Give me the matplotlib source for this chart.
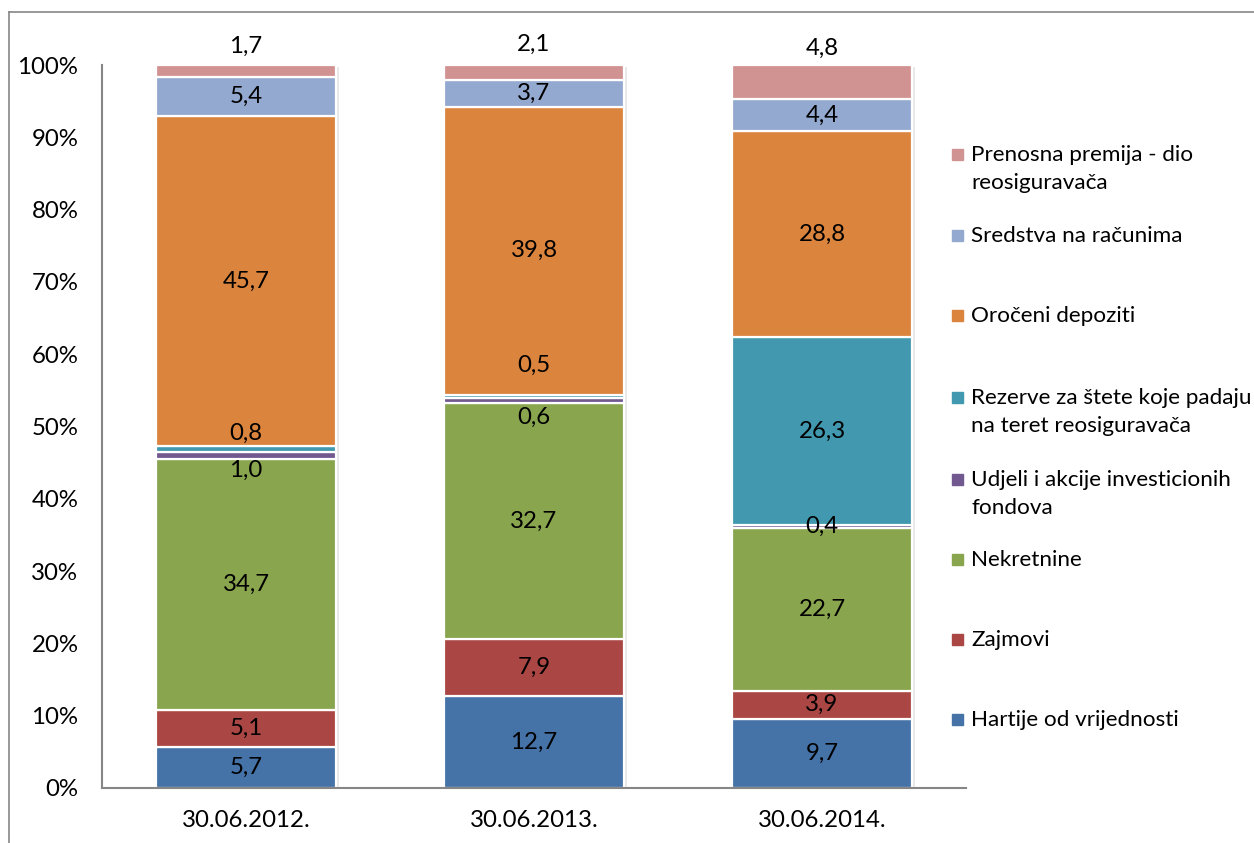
import matplotlib
matplotlib.use("Agg")
import matplotlib.pyplot as plt
from matplotlib.patches import Rectangle
from matplotlib.lines import Line2D
import numpy as np

plt.rcParams['font.family'] = ['Lato', 'DejaVu Sans']

categories = ["30.06.2012.", "30.06.2013.", "30.06.2014."]
series_names = [
    "Hartije od vrijednosti",
    "Zajmovi",
    "Nekretnine",
    "Udjeli i akcije investicionih\nfondova",
    "Rezerve za štete koje padaju\nna teret reosiguravača",
    "Oročeni depoziti",
    "Sredstva na računima",
    "Prenosna premija - dio\nreosiguravača",
]
hartije = [5.7, 12.7, 9.7]
zajmovi = [5.1, 7.9, 3.9]
nekretnine = [34.7, 32.7, 22.7]
udjeli = [1.0, 0.6, 0.4]
rezerve = [0.8, 0.5, 26.3]
oroceni = [45.7, 39.8, 28.8]
sredstva = [5.4, 3.7, 4.4]
prenosna = [1.7, 2.1, 4.8]
series = [hartije, zajmovi, nekretnine, udjeli, rezerve, oroceni, sredstva, prenosna]
colors = ["#4572A7", "#AA4643", "#89A54E", "#71588F", "#4198AF", "#DB843D", "#93A9CF", "#D19392"]

# manually moved label positions (percent), keyed by (series index, category index)
label_pos = {
    (3, 0): 44.0, (4, 0): 49.1,
    (3, 1): 51.2, (4, 1): 58.4,
    (7, 0): 102.6, (7, 1): 102.9, (7, 2): 102.3,
}

W, H = 1254, 843
fig = plt.figure(figsize=(W / 100, H / 100), dpi=100)
ax = fig.add_axes([102 / W, 55 / H, 864 / W, 723 / H])

data = np.array(series, dtype=float)
totals = data.sum(axis=0)
pct = data / totals * 100
x = np.arange(len(categories))
bw = 0.625

# soft shadow
ax.bar(x + 0.006, 100, width=bw + 0.012, bottom=-0.3, color="#e8e8e8", zorder=1, linewidth=0)

bottom = np.zeros(len(categories))
for i, (vals, c) in enumerate(zip(pct, colors)):
    ax.bar(x, vals, width=bw, bottom=bottom, color=c, edgecolor="white", linewidth=1.6, zorder=2)
    for j in range(len(categories)):
        yc = label_pos.get((i, j), bottom[j] + vals[j] / 2)
        ax.text(x[j], yc, f"{data[i, j]:.1f}".replace(".", ","), ha="center", va="center",
                fontsize=17.3, color="black", zorder=5, clip_on=False)
    bottom += vals

ax.set_xlim(-0.5, 2.5)
ax.set_ylim(0, 100)
ax.set_yticks(np.arange(0, 101, 10))
ax.set_yticklabels([f"{v}%" for v in range(0, 101, 10)], fontsize=17.3)
ax.set_xticks(x)
ax.set_xticklabels(categories, fontsize=17.3)
ax.tick_params(axis="both", length=0)
ax.tick_params(axis="y", pad=17)
ax.tick_params(axis="x", pad=16)
for s in ["top", "right"]:
    ax.spines[s].set_visible(False)
for s in ["left", "bottom"]:
    ax.spines[s].set_color("#868686")
    ax.spines[s].set_linewidth(1.5)

# legend (manual)
leg_y = [720, 640, 560, 494, 412, 316, 236, 169]
for i in range(len(series_names) - 1, -1, -1):
    yy = leg_y[i]
    nl = series_names[i].count("\n")
    ty = yy - nl * 14
    fig.patches.append(Rectangle((952 / W, 1 - (ty + 5) / H), 11 / W, 11 / H,
                                 transform=fig.transFigure, color=colors[i], figure=fig))
    fig.text(971 / W, 1 - yy / H, series_names[i], ha="left", va="center",
             fontsize=16.2, linespacing=1.5)

# outer frame
fig.add_artist(Line2D([9 / W, 9 / W], [0, 1 - 12 / H], transform=fig.transFigure, color="#868686", lw=1.2))
fig.add_artist(Line2D([9 / W, 1], [1 - 12 / H, 1 - 12 / H], transform=fig.transFigure, color="#868686", lw=1.2))

fig.savefig("out.png", dpi=100)
